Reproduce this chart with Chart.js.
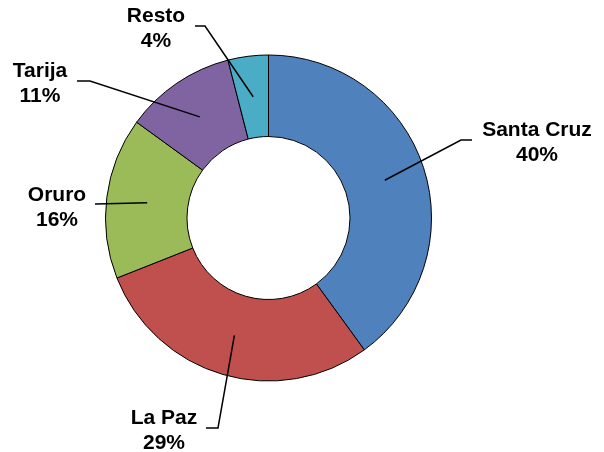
<!DOCTYPE html>
<html>
<head>
<meta charset="utf-8">
<script src="https://cdn.jsdelivr.net/npm/chart.js@4/dist/chart.umd.min.js"></script>
<style>
  html, body { margin: 0; padding: 0; background: #fff; }
  #wrap { width: 604px; height: 452px; position: relative; }
</style>
</head>
<body>
<div id="wrap"><canvas id="c"></canvas></div>
<script>
/* ––––– data ––––– */
const regions = ['Santa Cruz', 'La Paz', 'Oruro', 'Tarija', 'Resto'];
const shares  = [40, 29, 16, 11, 4];
const colours = ['#4F81BD', '#C0504D', '#9BBB59', '#8064A2', '#4BACC6'];

/* label placement: text centre x, first baseline y, elbow point, end of the short tail */
const labelPos = [
  { x: 537, y: 136, ex: 461, ey: 140, hx: 472 },
  { x: 164, y: 424, ex: 218, ey: 428, hx: 206 },
  { x: 57,  y: 201, ex: 96,  ey: 204, hx: 95  },
  { x: 40,  y: 77,  ex: 90,  ey: 81,  hx: 77  },
  { x: 156, y: 22,  ex: 205, ey: 26,  hx: 195 }
];

/* leader lines + labels drawn after the arcs */
const leaderLabels = {
  id: 'leaderLabels',
  afterDraw(chart) {
    const ctx = chart.ctx;
    const arcs = chart.getDatasetMeta(0).data;
    ctx.save();
    arcs.forEach((arc, i) => {
      const p = labelPos[i];
      const mid = (arc.startAngle + arc.endAngle) / 2;
      const r = (arc.innerRadius + arc.outerRadius) / 2;
      const sx = arc.x + Math.cos(mid) * r, sy = arc.y + Math.sin(mid) * r;
      ctx.strokeStyle = '#000';
      ctx.lineWidth = 1.5;
      ctx.beginPath();
      ctx.moveTo(sx, sy);
      ctx.lineTo(p.ex, p.ey);
      ctx.lineTo(p.hx, p.ey);
      ctx.stroke();

      ctx.fillStyle = '#000';
      ctx.font = 'bold 21px "Liberation Sans", Arial, sans-serif';
      ctx.textAlign = 'center';
      ctx.textBaseline = 'alphabetic';
      ctx.fillText(regions[i], p.x, p.y);
      ctx.fillText(shares[i] + '%', p.x, p.y + 24.5);
    });
    ctx.restore();
  }
};

new Chart(document.getElementById('c'), {
  type: 'doughnut',
  data: {
    labels: regions,
    datasets: [{
      data: shares,
      backgroundColor: colours,
      borderColor: '#000',
      borderWidth: 1,
      borderAlign: 'center'
    }]
  },
  options: {
    responsive: true,
    maintainAspectRatio: false,
    animation: false,
    cutout: '50%',
    layout: { padding: { left: 105, right: 172, top: 54.5, bottom: 70.5 } },
    plugins: { legend: { display: false }, tooltip: { enabled: false } }
  },
  plugins: [leaderLabels]
});
</script>
</body>
</html>
